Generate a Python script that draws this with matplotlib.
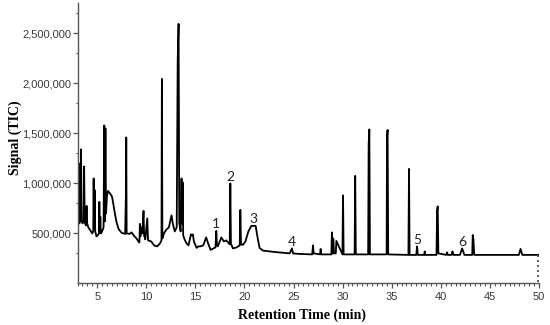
import matplotlib
matplotlib.use("Agg")
import matplotlib.pyplot as plt
from matplotlib import ticker

# total ion chromatogram (min, counts)
rt = [
    3.0, 3.03, 3.1, 3.2, 3.25, 3.3, 3.35, 3.42, 3.5, 3.62, 3.67, 3.73, 3.85, 3.92, 3.98,
    4.1, 4.3, 4.5, 4.6, 4.64, 4.68, 4.74, 4.8, 4.93, 5.05, 5.18, 5.22, 5.27, 5.32, 5.37,
    5.5, 5.65, 5.72, 5.78, 5.84, 5.9, 6.0, 6.1, 6.3, 6.5, 6.6, 6.8, 7.0, 7.2, 7.5,
    7.85, 7.93, 7.96, 8.0, 8.3, 8.5, 8.8, 9.0, 9.2, 9.3, 9.35, 9.4, 9.5, 9.6, 9.72,
    9.78, 9.9, 10.1, 10.18, 10.5, 10.8, 11.1, 11.4, 11.55, 11.59, 11.64, 11.8, 12.06, 12.3, 12.57,
    12.7, 12.9, 13.1, 13.2, 13.29, 13.36, 13.5, 13.59, 13.65, 13.7, 13.76, 13.9, 14.1, 14.3, 14.55,
    14.65, 14.75, 14.85, 15.12, 15.3, 15.5, 15.8, 16.1, 16.3, 16.55, 17.05, 17.13, 17.2, 17.29, 17.64,
    17.9, 18.15, 18.5, 18.56, 18.62, 18.82, 19.2, 19.52, 19.58, 19.65, 19.84, 20.1, 20.4, 20.7, 21.14,
    21.35, 21.54, 21.88, 23.0, 24.6, 24.84, 24.95, 25.5, 26.9, 26.98, 27.05, 27.7, 27.76, 27.82, 28.85,
    28.91, 28.97, 29.05, 29.12, 29.3, 29.36, 29.98, 30.04, 30.1, 31.22, 31.28, 31.34, 32.6, 32.65, 32.72,
    32.78, 34.48, 34.52, 34.58, 34.64, 36.7, 36.76, 36.82, 37.5, 37.58, 37.66, 38.3, 38.36, 38.42, 39.56,
    39.62, 39.68, 39.75, 40.55, 40.64, 40.72, 41.1, 41.19, 41.28, 41.95, 42.17, 42.4, 43.2, 43.25, 43.32,
    43.4, 45.0, 47.95, 48.12, 48.3, 49.91,
]
signal = [
    700e3, 760e3, 610e3, 600e3, 1200e3, 620e3, 1340e3, 640e3, 600e3, 620e3, 1170e3, 610e3, 580e3, 775e3, 600e3,
    560e3, 530e3, 500e3, 520e3, 1050e3, 560e3, 935e3, 520e3, 470e3, 480e3, 500e3, 815e3, 520e3, 665e3, 500e3,
    520e3, 560e3, 1580e3, 620e3, 1550e3, 700e3, 880e3, 925e3, 900e3, 870e3, 820e3, 700e3, 600e3, 540e3, 505e3,
    495e3, 905e3, 1460e3, 500e3, 495e3, 510e3, 470e3, 450e3, 420e3, 410e3, 595e3, 470e3, 560e3, 500e3, 725e3,
    480e3, 440e3, 650e3, 430e3, 420e3, 380e3, 370e3, 400e3, 430e3, 2045e3, 450e3, 500e3, 540e3, 560e3, 680e3,
    600e3, 520e3, 560e3, 2235e3, 2595e3, 600e3, 520e3, 1050e3, 600e3, 1010e3, 480e3, 440e3, 400e3, 380e3, 490e3,
    480e3, 490e3, 420e3, 355e3, 370e3, 370e3, 380e3, 460e3, 400e3, 335e3, 360e3, 525e3, 380e3, 370e3, 460e3,
    420e3, 430e3, 390e3, 1000e3, 400e3, 350e3, 360e3, 380e3, 735e3, 390e3, 385e3, 420e3, 520e3, 575e3, 575e3,
    450e3, 355e3, 328e3, 315e3, 300e3, 350e3, 300e3, 295e3, 290e3, 380e3, 300e3, 290e3, 345e3, 290e3, 290e3,
    510e3, 300e3, 450e3, 300e3, 300e3, 425e3, 290e3, 880e3, 290e3, 290e3, 1075e3, 290e3, 290e3, 1390e3, 1540e3,
    290e3, 290e3, 1470e3, 1535e3, 290e3, 285e3, 1145e3, 285e3, 285e3, 370e3, 285e3, 285e3, 320e3, 285e3, 285e3,
    725e3, 770e3, 300e3, 285e3, 310e3, 285e3, 285e3, 320e3, 285e3, 285e3, 350e3, 285e3, 285e3, 485e3, 440e3,
    285e3, 285e3, 285e3, 345e3, 285e3, 285e3,
]

# numbered compounds
peak_labels = ["1", "2", "3", "4", "5", "6"]
peak_rt = [17.13, 18.56, 20.92, 24.84, 37.58, 42.17]
peak_height = [525e3, 1000e3, 575e3, 350e3, 370e3, 350e3]

fig = plt.figure(figsize=(5.5, 3.25), dpi=100)
ax = fig.add_axes([0.141, 0.128, 0.839, 0.863])

ax.plot(rt, signal, color="black", lw=1.3)
# trace end drops to the axis, shown dotted
ax.plot([rt[-1], rt[-1]], [signal[-1], 0], color="#444444", lw=1.2, ls=(0, (1.2, 1.8)))

for lab, t, h in zip(peak_labels, peak_rt, peak_height):
    ax.annotate(lab, (t, h), xytext=(0, 0.5), textcoords="offset points",
                ha="center", va="bottom", fontsize=10, family="Lato", color="#222222")

ax.set_xlim(3, 50)
ax.set_ylim(0, 2.805e6)

ax.set_xticks(range(5, 51, 5))
ax.xaxis.set_minor_locator(ticker.MultipleLocator(0.5))
ax.set_yticks([500e3, 1000e3, 1500e3, 2000e3, 2500e3])
ax.set_yticks([300e3, 800e3, 1300e3, 1800e3, 2300e3, 2700e3], minor=True)
ax.yaxis.set_major_formatter(ticker.FuncFormatter(lambda v, p: f"{int(v):,}"))

for s in ["top", "right"]:
    ax.spines[s].set_visible(False)
for s in ["left", "bottom"]:
    ax.spines[s].set_color("#555555")
    ax.spines[s].set_linewidth(1.0)

ax.tick_params(which="major", length=3.5, width=0.9, color="#555555",
               labelsize=8, labelcolor="#3a3a3a")
ax.tick_params(which="minor", length=1.8, width=0.8, color="#555555")
ax.tick_params(axis="y", pad=1)
ax.tick_params(axis="x", pad=2.5)
for lbl in ax.get_xticklabels() + ax.get_yticklabels():
    lbl.set_family("Liberation Sans")

ax.set_xlabel("Retention Time (min)", family="Liberation Serif", fontweight="bold", fontsize=10)
ax.set_ylabel("Signal (TIC)", family="Liberation Serif", fontweight="bold", fontsize=10)
ax.xaxis.set_label_coords(0.486, -0.112)
ax.yaxis.set_label_coords(-0.135, 0.52)
ax.xaxis.label.set_va("center")
ax.yaxis.label.set_va("center")

fig.savefig("out.png", dpi=100)
